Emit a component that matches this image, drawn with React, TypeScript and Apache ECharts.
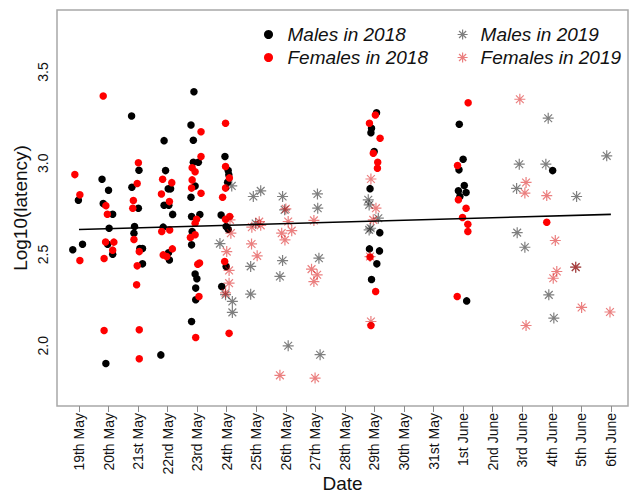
import React, { useEffect, useRef } from "react";
import * as echarts from "echarts";

// Sampling days (axis positions 0..18)
const dateLabels = [
  "19th May", "20th May", "21st May", "22nd May", "23rd May", "24th May",
  "25th May", "26th May", "27th May", "28th May", "29th May", "30th May",
  "31st May", "1st June", "2nd June", "3rd June", "4th June", "5th June", "6th June",
];
const dayTicks = dateLabels.map((_, i) => i);
const yTicks = [2.0, 2.5, 3.0, 3.5];

// [day position with jitter, log10(latency)]
const males2018: [number, number][] = [
  [-0.21, 2.526], [0.12, 2.556], [-0.02, 2.797],
  [0.78, 2.913], [1.0, 2.852], [0.82, 2.779], [1.14, 2.721], [1.02, 2.644], [0.97, 2.556], [1.14, 2.502], [0.91, 1.903],
  [1.78, 3.259], [2.03, 2.962], [1.79, 2.869], [2.01, 2.754], [1.88, 2.653], [1.86, 2.617], [2.06, 2.533], [2.15, 2.533], [2.15, 2.449],
  [2.88, 3.124], [2.93, 2.96], [3.02, 2.86], [3.1, 2.86], [2.88, 2.77], [3.04, 2.77], [3.17, 2.72], [2.85, 2.65], [3.03, 2.51], [3.06, 2.47], [2.77, 1.95],
  [3.89, 3.392], [3.79, 3.21], [3.87, 3.126], [3.87, 3.006], [4.04, 3.006], [3.93, 2.876], [3.79, 2.814], [3.81, 2.708], [4.09, 2.719],
  [3.83, 2.626], [3.81, 2.553], [3.93, 2.393], [3.99, 2.367], [3.95, 2.316], [3.95, 2.252], [3.81, 2.133],
  [4.94, 3.037], [5.05, 2.96], [5.07, 2.937], [5.03, 2.896], [4.81, 2.717], [4.98, 2.653], [5.05, 2.639], [4.98, 2.435], [4.83, 2.325],
  [10.07, 3.277], [9.9, 3.192], [9.88, 3.168], [9.99, 3.064], [9.85, 2.861], [10.18, 2.62], [9.83, 2.531], [10.17, 2.52], [10.08, 2.449], [9.9, 2.363],
  [12.87, 3.214], [13.0, 3.022], [12.86, 2.964], [13.04, 2.878], [12.84, 2.849], [13.1, 2.84], [12.89, 2.818], [13.12, 2.246],
  [16.03, 2.96],
];

const females2018: [number, number][] = [
  [-0.14, 2.938], [0.03, 2.827], [0.03, 2.467],
  [0.82, 3.369], [0.91, 2.768], [0.96, 2.721], [0.9, 2.569], [1.18, 2.568], [1.14, 2.524], [0.85, 2.478], [0.85, 2.084],
  [2.01, 3.003], [1.97, 2.889], [1.84, 2.796], [1.82, 2.754], [1.86, 2.582], [2.04, 2.516], [1.97, 2.438], [1.95, 2.334], [2.04, 2.088], [2.04, 1.929],
  [2.83, 2.913], [3.14, 2.894], [2.79, 2.832], [3.06, 2.79], [3.07, 2.635], [2.8, 2.626], [3.16, 2.531], [2.85, 2.498], [2.97, 2.489],
  [4.13, 3.173], [4.13, 3.037], [3.83, 2.976], [3.93, 2.954], [3.83, 2.909], [3.81, 2.864], [4.13, 2.836], [3.98, 2.693], [3.93, 2.672],
  [3.77, 2.593], [3.93, 2.608], [4.02, 2.447], [4.08, 2.453], [4.06, 2.27], [3.95, 2.045],
  [4.96, 3.219], [4.96, 2.982], [5.09, 2.92], [4.96, 2.864], [4.86, 2.814], [5.1, 2.708], [4.96, 2.693], [4.93, 2.462], [5.08, 2.068],
  [10.03, 3.265], [9.83, 3.219], [10.19, 3.137], [9.96, 3.055], [10.11, 3.006], [10.1, 2.973], [9.85, 2.486], [10.04, 2.297], [9.88, 2.111],
  [13.17, 3.332], [12.81, 2.988], [12.84, 2.8], [13.1, 2.754], [12.98, 2.703], [13.16, 2.666], [13.16, 2.626], [12.8, 2.27],
  [15.83, 2.677],
];

const males2019: [number, number][] = [
  [5.17, 2.876], [4.77, 2.56], [4.96, 2.28], [5.19, 2.243], [5.19, 2.183],
  [6.15, 2.849], [5.9, 2.818], [5.98, 2.67], [5.81, 2.435], [5.81, 2.283],
  [6.89, 2.818], [6.96, 2.745], [6.89, 2.467], [6.8, 2.38], [7.08, 2.0],
  [8.07, 2.832], [8.08, 2.754], [8.12, 2.48], [8.16, 1.951],
  [9.79, 2.8], [9.82, 2.772], [10.13, 2.699], [9.87, 2.644], [9.82, 2.635],
  [14.9, 2.995], [14.81, 2.862], [14.83, 2.62], [15.09, 2.54],
  [15.88, 3.247], [15.8, 2.995], [15.9, 2.279], [16.07, 2.152],
  [16.84, 2.818], [16.81, 2.431],
  [17.86, 3.041],
];

const females2019: [number, number][] = [
  [5.11, 2.69], [5.14, 2.617], [5.0, 2.516], [5.08, 2.413], [5.08, 2.343], [4.96, 2.29],
  [6.1, 2.68], [5.85, 2.65], [6.15, 2.66], [5.84, 2.558], [6.03, 2.493],
  [7.0, 2.75], [7.08, 2.681], [6.86, 2.617], [7.2, 2.631], [6.97, 2.58], [6.8, 1.838],
  [7.95, 2.687], [7.87, 2.42], [8.06, 2.389], [7.95, 2.352], [7.99, 1.823],
  [9.88, 2.914], [10.05, 2.754], [9.96, 2.69], [9.85, 2.489], [9.88, 2.133],
  [14.92, 3.351], [15.13, 2.895], [15.09, 2.837], [15.13, 2.111],
  [15.83, 2.823], [16.12, 2.577], [16.17, 2.407], [16.05, 2.37],
  [16.81, 2.431], [17.01, 2.21],
  [17.97, 2.185],
];

// Fitted trend across the whole period
const trendX = [0, 18];
const trendY = [2.637, 2.72];

const FONT = "'Liberation Sans', Arial, Helvetica, sans-serif";
const STAR = "path://M5,0L5,10M0,5L10,5M1.46,1.46L8.54,8.54M1.46,8.54L8.54,1.46";
const GREY_STAR = "rgba(0,0,0,0.5)";
const RED_STAR = "rgba(215,0,0,0.5)";

export default function App() {
  const ref = useRef<HTMLDivElement>(null);

  useEffect(() => {
    if (!ref.current) return;
    const chart = echarts.init(ref.current, null, { renderer: "svg" });

    const legendText = {
      fontFamily: FONT,
      fontSize: 19,
      fontStyle: "italic" as const,
      color: "#111",
    };

    chart.setOption({
      animation: false,
      backgroundColor: "#fff",
      grid: {
        left: 57,
        right: 2,
        top: 10,
        bottom: 89,
        outerBoundsMode: "none",
        containLabel: false,
        show: true,
        borderColor: "#a8a8a8",
        borderWidth: 1.5,
        backgroundColor: "transparent",
      },
      legend: [
        {
          data: ["Males in 2018", "Females in 2018"],
          orient: "vertical",
          left: 259,
          top: 20,
          itemWidth: 28,
          itemHeight: 9,
          itemGap: 4,
          selectedMode: false,
          textStyle: legendText,
        },
        {
          data: [
            { name: "Males in 2019", itemStyle: { color: GREY_STAR, borderColor: GREY_STAR, borderWidth: 1.2, opacity: 1 } },
            { name: "Females in 2019", itemStyle: { color: RED_STAR, borderColor: RED_STAR, borderWidth: 1.2, opacity: 1 } },
          ],
          orient: "vertical",
          left: 452,
          top: 20,
          itemWidth: 26,
          itemHeight: 10,
          itemGap: 4,
          selectedMode: false,
          textStyle: legendText,
        },
      ],
      xAxis: {
        type: "value",
        min: -0.744,
        max: 18.58,
        name: "Date",
        nameLocation: "middle",
        nameGap: 68,
        nameMoveOverlap: false,
        nameTextStyle: { fontFamily: FONT, fontSize: 19, color: "#111" },
        splitLine: { show: false },
        axisLine: { show: false },
        axisTick: {
          show: true,
          customValues: dayTicks,
          length: 6,
          lineStyle: { color: "#8c8c8c", width: 1 },
        },
        axisLabel: {
          customValues: dayTicks,
          rotate: 90,
          margin: 7,
          fontFamily: FONT,
          fontSize: 14,
          color: "#111",
          formatter: (v: number) => dateLabels[Math.round(v)] ?? "",
        },
      },
      yAxis: {
        type: "value",
        min: 1.67,
        max: 3.84,
        name: "Log10(latency)",
        nameLocation: "middle",
        nameGap: 27,
        nameMoveOverlap: false,
        nameTextStyle: { fontFamily: FONT, fontSize: 19, color: "#111" },
        splitLine: { show: false },
        axisLine: { show: false },
        axisTick: { show: false },
        axisLabel: {
          customValues: yTicks,
          rotate: 90,
          margin: 7,
          fontFamily: FONT,
          fontSize: 14,
          color: "#111",
          formatter: (v: number) => v.toFixed(1),
        },
      },
      series: [
        {
          name: "Males in 2018",
          type: "scatter",
          data: males2018,
          symbol: "circle",
          symbolSize: 7.5,
          itemStyle: { color: "#000", opacity: 1 },
          z: 2,
        },
        {
          name: "Females in 2018",
          type: "scatter",
          data: females2018,
          symbol: "circle",
          symbolSize: 7.5,
          itemStyle: { color: "#ff0000", opacity: 1 },
          z: 2,
        },
        {
          name: "Males in 2019",
          type: "scatter",
          data: males2019,
          symbol: STAR,
          symbolSize: 11,
          symbolKeepAspect: true,
          itemStyle: { color: GREY_STAR, borderColor: GREY_STAR, borderWidth: 1.2, opacity: 1 },
          z: 3,
        },
        {
          name: "Females in 2019",
          type: "scatter",
          data: females2019,
          symbol: STAR,
          symbolSize: 11,
          symbolKeepAspect: true,
          itemStyle: { color: RED_STAR, borderColor: RED_STAR, borderWidth: 1.2, opacity: 1 },
          z: 3,
        },
        {
          name: "trend",
          type: "line",
          data: trendX.map((x, i) => [x, trendY[i]]),
          symbol: "none",
          lineStyle: { color: "#000", width: 1.6 },
          z: 4,
        },
      ],
    });

    return () => chart.dispose();
  }, []);

  return (
    <div
      ref={ref}
      style={{ position: "fixed", left: 0, top: 0, width: 630, height: 495 }}
    />
  );
}
